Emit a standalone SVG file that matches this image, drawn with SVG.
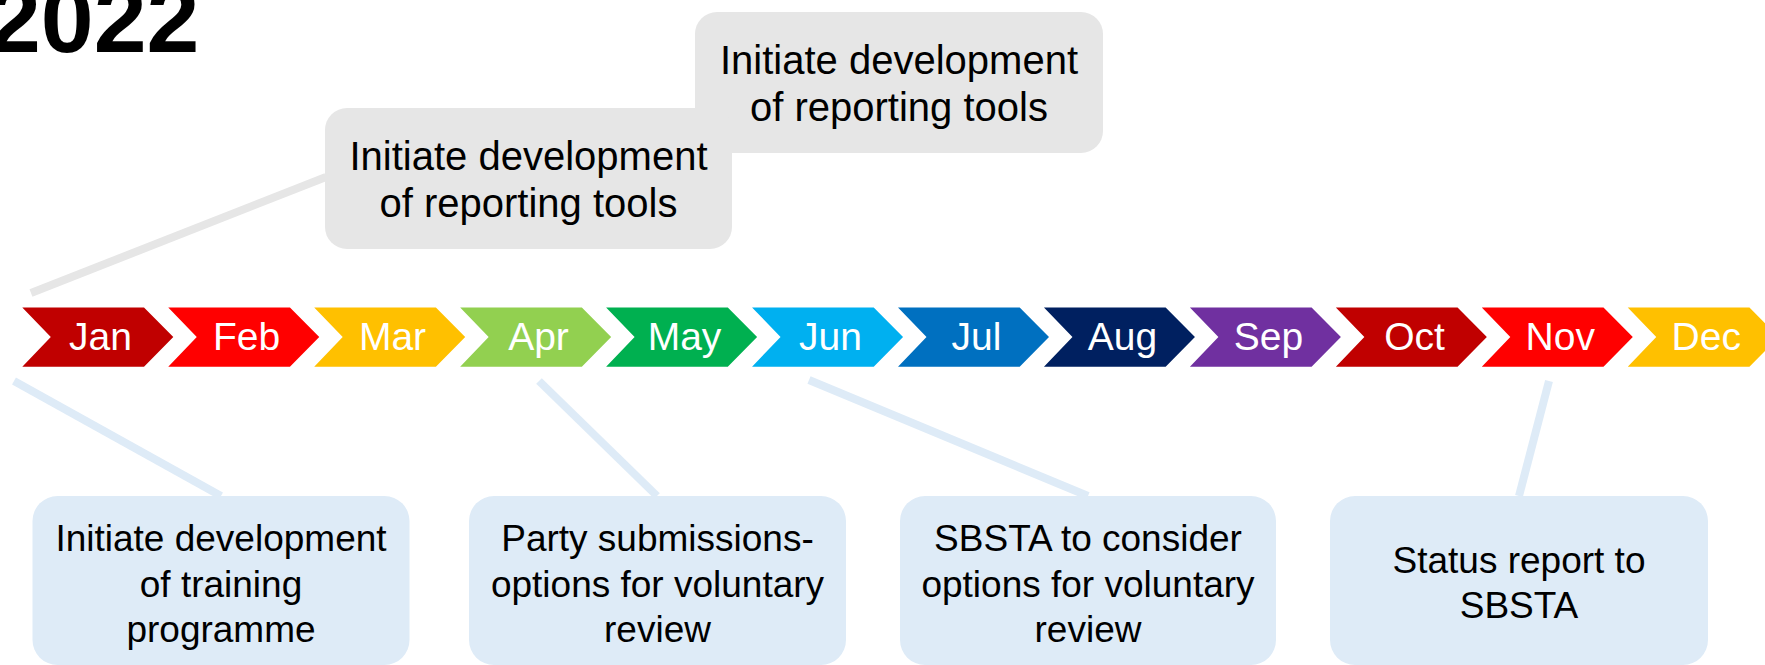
<svg xmlns="http://www.w3.org/2000/svg" width="1765" height="665" viewBox="0 0 1765 665">
<style>
text{font-family:"Liberation Sans",Arial,sans-serif}
.title{font-size:95px;font-weight:bold;fill:#000}
.mon{font-size:39px;fill:#fff;text-anchor:middle}
.gt{font-size:40px;fill:#000;text-anchor:middle}
.bt{font-size:37px;fill:#000;text-anchor:middle}
.gbox{fill:#E6E6E6}
.bbox{fill:#DEEBF7}
.gl{stroke:#E6E6E6;stroke-width:8;fill:none}
.bl{stroke:#DEEBF7;stroke-width:8;fill:none}
</style>
<defs>
<path id="chev" d="M0,307.5 L121.7,307.5 L151,337 L121.7,366.7 L0,366.7 L28.5,337 Z"/>
</defs>
<rect width="1765" height="665" fill="#fff"/>
<text class="title" x="-12" y="52">2022</text>
<g id="connectors">
<line class="gl" x1="31" y1="293" x2="326" y2="177"/>
<line class="bl" x1="14" y1="381" x2="221" y2="496"/>
<line class="bl" x1="539" y1="381" x2="657" y2="496"/>
<line class="bl" x1="809" y1="380" x2="1088" y2="496"/>
<line class="bl" x1="1549" y1="381" x2="1519" y2="496"/>
</g>
<g id="timeline">
<g id="m-jan"><use href="#chev" x="22.3" fill="#C00000"/><text class="mon" x="100.5" y="350">Jan</text></g>
<g id="m-feb"><use href="#chev" x="168.25" fill="#FF0000"/><text class="mon" x="246.5" y="350">Feb</text></g>
<g id="m-mar"><use href="#chev" x="314.2" fill="#FFC000"/><text class="mon" x="392.5" y="350">Mar</text></g>
<g id="m-apr"><use href="#chev" x="460.15" fill="#92D050"/><text class="mon" x="538.5" y="350">Apr</text></g>
<g id="m-may"><use href="#chev" x="606.1" fill="#00B050"/><text class="mon" x="684.5" y="350">May</text></g>
<g id="m-jun"><use href="#chev" x="752.05" fill="#00B0F0"/><text class="mon" x="830.5" y="350">Jun</text></g>
<g id="m-jul"><use href="#chev" x="898" fill="#0070C0"/><text class="mon" x="976.5" y="350">Jul</text></g>
<g id="m-aug"><use href="#chev" x="1043.95" fill="#002060"/><text class="mon" x="1122.5" y="350">Aug</text></g>
<g id="m-sep"><use href="#chev" x="1189.9" fill="#7030A0"/><text class="mon" x="1268.5" y="350">Sep</text></g>
<g id="m-oct"><use href="#chev" x="1335.85" fill="#C00000"/><text class="mon" x="1414.5" y="350">Oct</text></g>
<g id="m-nov"><use href="#chev" x="1481.8" fill="#FF0000"/><text class="mon" x="1560.3" y="350">Nov</text></g>
<g id="m-dec"><use href="#chev" x="1627.75" fill="#FFC000"/><text class="mon" x="1706.3" y="350">Dec</text></g>
</g>
<g id="note-reporting-2">
<rect class="gbox" x="695" y="12" width="408" height="141" rx="22"/>
<text class="gt" x="899" y="74">Initiate development</text>
<text class="gt" x="899" y="121">of reporting tools</text>
</g>
<g id="note-reporting-1">
<rect class="gbox" x="325" y="108" width="407" height="141" rx="22"/>
<text class="gt" x="528.5" y="170">Initiate development</text>
<text class="gt" x="528.5" y="217">of reporting tools</text>
</g>
<g id="note-training">
<rect class="bbox" x="32.5" y="496" width="377" height="169" rx="25"/>
<text class="bt" x="221" y="551">Initiate development</text>
<text class="bt" x="221" y="597">of training</text>
<text class="bt" x="221" y="642">programme</text>
</g>
<g id="note-submissions">
<rect class="bbox" x="469" y="496" width="377" height="169" rx="25"/>
<text class="bt" x="657.5" y="551">Party submissions-</text>
<text class="bt" x="657.5" y="597">options for voluntary</text>
<text class="bt" x="657.5" y="642">review</text>
</g>
<g id="note-sbsta">
<rect class="bbox" x="900" y="496" width="376" height="169" rx="25"/>
<text class="bt" x="1088" y="551">SBSTA to consider</text>
<text class="bt" x="1088" y="597">options for voluntary</text>
<text class="bt" x="1088" y="642">review</text>
</g>
<g id="note-status">
<rect class="bbox" x="1330" y="496" width="378" height="169" rx="25"/>
<text class="bt" x="1519" y="573">Status report to</text>
<text class="bt" x="1519" y="618">SBSTA</text>
</g>
</svg>
